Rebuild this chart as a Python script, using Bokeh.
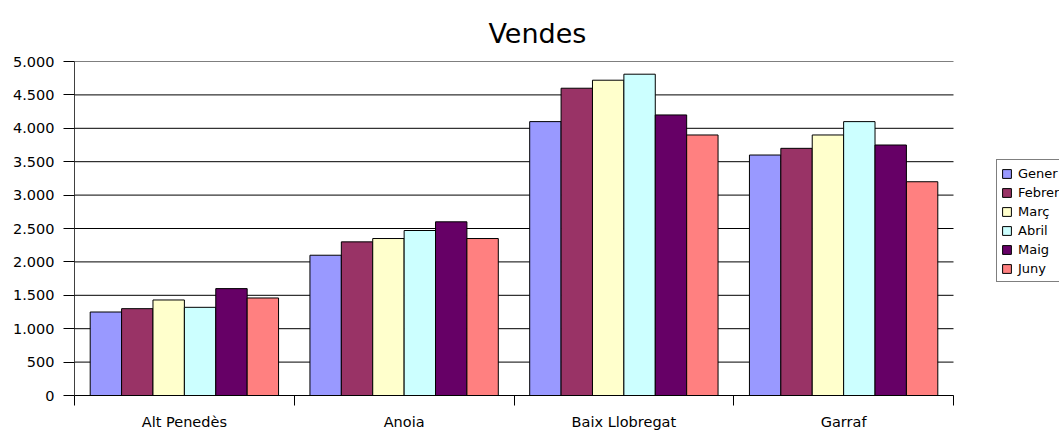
from bokeh.plotting import figure
from bokeh.models import (ColumnDataSource, FixedTicker, Range1d, Legend, LegendItem)
from bokeh.transform import dodge
from bokeh.embed import file_html
from bokeh.resources import INLINE

title_text = "Vendes"
categories = ["Alt Penedès", "Anoia", "Baix Llobregat", "Garraf"]
months = ["Gener", "Febrer", "Març", "Abril", "Maig", "Juny"]
gener = [1250, 2100, 4100, 3600]
febrer = [1300, 2300, 4600, 3700]
marc = [1430, 2350, 4720, 3900]
abril = [1320, 2470, 4810, 4100]
maig = [1600, 2600, 4200, 3750]
juny = [1460, 2350, 3900, 3200]
series = [gener, febrer, marc, abril, maig, juny]
colors = ["#9999FF", "#993366", "#FFFFCC", "#CCFFFF", "#660066", "#FF8080"]
y_tick_values = [0, 500, 1000, 1500, 2000, 2500, 3000, 3500, 4000, 4500, 5000]
y_tick_labels = ["0", "500", "1.000", "1.500", "2.000", "2.500", "3.000",
                 "3.500", "4.000", "4.500", "5.000"]

FONT = "DejaVu Sans"
W, H = 1059, 432
LEFT, TOP, BOTTOM = 74, 61, 35
PLOT_RIGHT = 953  # where the category area ends (pixels)
n_groups = len(categories)
n_series = len(months)
slot = 1.0 / (n_series + 1)

# extend the x range so the frame reaches the right edge (legend lives there)
x_end = n_groups * (W - LEFT) / (PLOT_RIGHT - LEFT)

centers = [i + 0.5 for i in range(n_groups)]
data = {"x": centers}
for m, vals in zip(months, series):
    data[m] = vals
source = ColumnDataSource(data)

p = figure(width=W, height=H, output_backend="svg", toolbar_location=None,
           x_range=Range1d(0, x_end), y_range=Range1d(0, 5000),
           min_border_left=LEFT, min_border_right=0, min_border_top=TOP,
           min_border_bottom=BOTTOM)
p.title.text = title_text
p.title.text_font = FONT
p.title.text_font_size = "27px"
p.title.text_font_style = "normal"
p.title.text_color = "black"
p.title.align = "left"
p.title.offset = 414
p.title.standoff = 26
p.outline_line_color = None
p.background_fill_color = "white"
p.border_fill_color = "white"

# horizontal grid lines only across the category area
p.segment(x0=0, x1=n_groups, y0=y_tick_values, y1=y_tick_values,
          line_color="black", line_width=1, level="underlay")

items = []
for j, (m, c) in enumerate(zip(months, colors)):
    r = p.vbar(x=dodge("x", (j - (n_series - 1) / 2) * slot, range=p.x_range),
               top=m, width=slot, source=source,
               fill_color=c, line_color="black", line_width=1)
    items.append(LegendItem(label=m, renderers=[r]))

legend = Legend(items=items, location=(996 - LEFT, 113),
                label_text_font=FONT, label_text_font_size="13px",
                label_text_color="black",
                glyph_width=11, glyph_height=11, label_height=18,
                label_standoff=6, spacing=1, padding=4, margin=0,
                border_line_color="black", border_line_width=1,
                background_fill_color="white", background_fill_alpha=1)
p.add_layout(legend, "center")

# x axis: ticks at category boundaries, labels at centers
xa = p.xaxis[0]
xa.bounds = (0, n_groups)
xa.ticker = FixedTicker(ticks=centers, minor_ticks=list(range(n_groups + 1)))
xa.major_label_overrides = {c: lab for c, lab in zip(centers, categories)}
xa.major_tick_out = 0
xa.major_tick_in = 0
xa.minor_tick_out = 10
xa.minor_tick_in = 0
xa.minor_tick_line_color = "black"
xa.axis_line_color = "black"
xa.major_label_text_font = FONT
xa.major_label_text_font_size = "14.5px"
xa.major_label_standoff = 8
xa.major_label_text_color = "black"

ya = p.yaxis[0]
ya.ticker = FixedTicker(ticks=y_tick_values)
ya.major_label_overrides = {v: lab for v, lab in zip(y_tick_values, y_tick_labels)}
ya.minor_tick_line_color = None
ya.major_tick_out = 11
ya.major_tick_in = 0
ya.major_tick_line_color = "black"
ya.axis_line_color = "#404040"
ya.major_label_text_font = FONT
ya.major_label_text_font_size = "14.5px"
ya.major_label_standoff = 9
ya.major_label_text_color = "black"

p.xgrid.grid_line_color = None
p.ygrid.grid_line_color = None

open("out.html", "w").write(file_html(p, INLINE))
